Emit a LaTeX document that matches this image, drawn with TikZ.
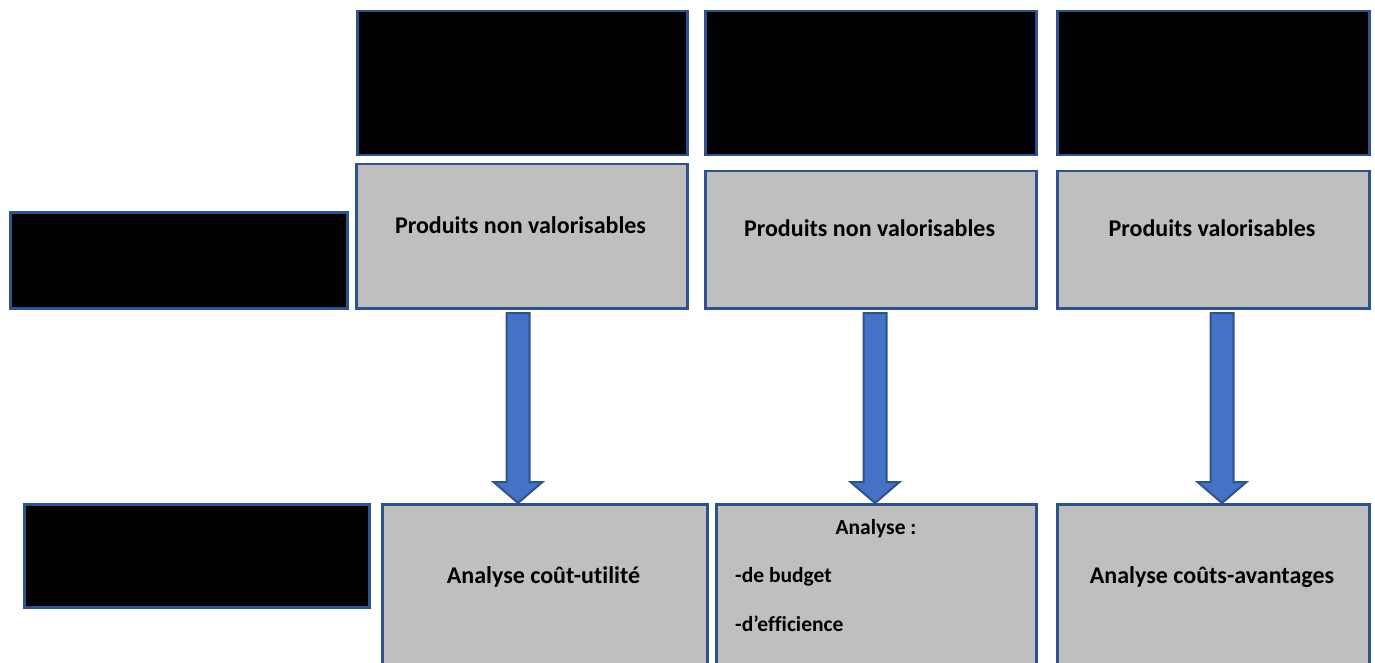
\documentclass[tikz,border=0pt]{standalone}
\usepackage{fontspec}
\setmainfont{Carlito}[Ligatures=NoCommon]
\usetikzlibrary{calc}
\definecolor{edgeblue}{HTML}{2F528F}
\definecolor{arrowblue}{HTML}{4472C4}
\definecolor{boxgrey}{HTML}{BFBFBF}
\tikzset{
  px/.style={x=1pt,y=-1pt},
  box/.style={draw=edgeblue,line width=2.5pt,anchor=north west,inner sep=0pt},
  darkbox/.style={box,fill=black},
  greybox/.style={box,fill=boxgrey},
  lbl/.style={font=\fontsize{24}{28}\selectfont\bfseries,inner sep=0pt},
  smalllbl/.style={lbl,font=\fontsize{21.5}{25}\selectfont\bfseries},
  bigarrow/.style={draw=edgeblue,fill=arrowblue,line width=2pt,line join=miter},
}
\begin{document}
\begin{tikzpicture}[px]
\useasboundingbox (0,0) rectangle (1375,663);
\clip (0,0) rectangle (1375,663);
% header row
\node[darkbox,minimum width=330pt,minimum height=144pt] (t1) at (356,10) {};
\node[darkbox,minimum width=331pt,minimum height=144pt] (t2) at (704,10) {};
\node[darkbox,minimum width=312pt,minimum height=144pt] (t3) at (1056,10) {};
% product type row
\node[darkbox,minimum width=337pt,minimum height=96pt] (r1) at (9,211) {};
\node[greybox,minimum width=331pt,minimum height=144pt] (g1) at (355,163) {};
\node[greybox,minimum width=331pt,minimum height=137pt] (g2) at (704,170) {};
\node[greybox,minimum width=312pt,minimum height=137pt] (g3) at (1056,170) {};
\node[lbl] (g1t) at (520.5,225) {Produits non valorisables};
\node[lbl] (g2t) at (869.5,228) {Produits non valorisables};
\node[lbl] (g3t) at (1212,228) {Produits valorisables};
% analysis row
\node[darkbox,minimum width=345pt,minimum height=103pt] (r2) at (23,503) {};
\node[greybox,minimum width=325pt,minimum height=190pt] (h1) at (381,503) {};
\node[greybox,minimum width=320pt,minimum height=190pt] (h2) at (715,503) {};
\node[greybox,minimum width=312pt,minimum height=190pt] (h3) at (1056,503) {};
\node[lbl] (h1t) at (543.5,577) {Analyse coût-utilité};
\node[smalllbl] (h2a) at (876,529) {Analyse :};
\node[smalllbl,anchor=west] (h2b) at (735,577) {-de budget};
\node[smalllbl,anchor=west] (h2c) at (735,624) {-d’efficience};
\node[lbl] (h3t) at (1212,577) {Analyse coûts-avantages};
% block arrows
\coordinate (a1) at (518,313);
\coordinate (a2) at (875,313);
\coordinate (a3) at (1222,313);
\foreach \a/\h in {a1/h1,a2/h2,a3/h3}{
  \path let \p1=(\a), \p2=(\h.north) in
    coordinate (s) at (\x1,\y1) coordinate (e) at (\x1,\y2);
  \draw[bigarrow] ($(s)+(-11.5,0)$) -- ($(s)+(11.5,0)$) -- ($(e)+(11.5,-21)$)
    -- ($(e)+(24.5,-21)$) -- (e) -- ($(e)+(-24.5,-21)$) -- ($(e)+(-11.5,-21)$) -- cycle;
}
\end{tikzpicture}
\end{document}
